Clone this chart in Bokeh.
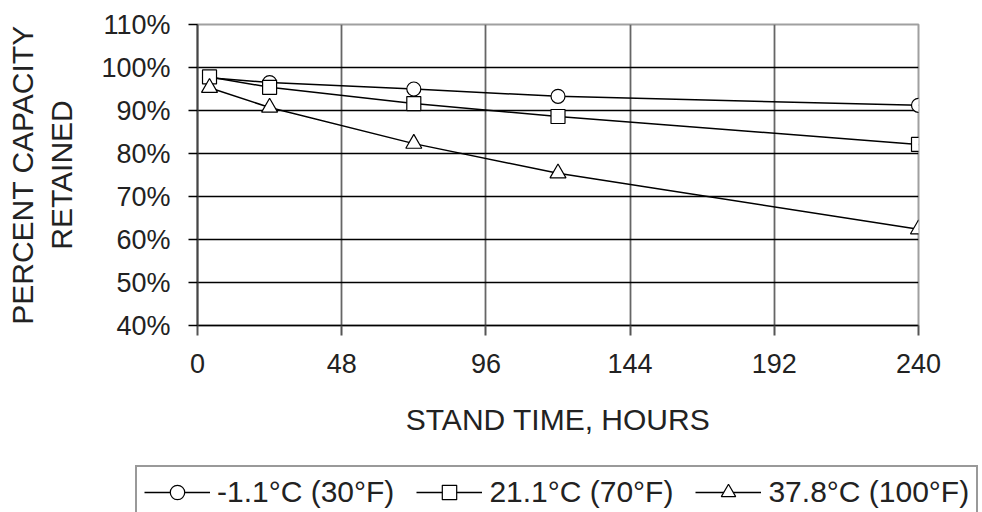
from bokeh.plotting import figure
from bokeh.layouts import column
from bokeh.models import (FixedTicker, PrintfTickFormatter, Legend, LegendItem,
                          Range1d)
from bokeh.embed import file_html
from bokeh.resources import INLINE

# ---- data ----
hours = [4, 24, 72, 120, 240]
cold = [97.6, 96.5, 95.0, 93.3, 91.2]      # -1.1°C (30°F)
room = [97.8, 95.4, 91.6, 88.6, 82.1]      # 21.1°C (70°F)
hot = [95.3, 90.7, 82.3, 75.4, 62.4]       # 37.8°C (100°F)
series_labels = ["-1.1°C (30°F)", "21.1°C (70°F)", "37.8°C (100°F)"]
x_ticks = [0, 48, 96, 144, 192, 240]
y_ticks = [40, 50, 60, 70, 80, 90, 100, 110]
x_title = "STAND TIME, HOURS"
y_title = "PERCENT CAPACITY\nRETAINED"

FONT = "Liberation Sans"
TXT = "#222222"
markers = ["circle", "square", "triangle"]
sizes = [14, 14, 16]

p = figure(width=982, height=460, output_backend="svg", toolbar_location=None,
           x_range=Range1d(0, 240), y_range=Range1d(40, 110),
           min_border_left=197, min_border_right=64,
           min_border_top=24, min_border_bottom=135)
p.frame_align = False
p.background_fill_color = "white"
p.border_fill_color = "white"
p.outline_line_color = "#a0a0a0"
p.outline_line_width = 2

# axes
p.xaxis.ticker = FixedTicker(ticks=x_ticks)
p.yaxis.ticker = FixedTicker(ticks=y_ticks)
p.yaxis.formatter = PrintfTickFormatter(format="%d%%")
for ax in (p.xaxis, p.yaxis):
    ax.minor_tick_line_color = None
    ax.major_tick_in = 0
    ax.major_label_text_font = FONT
    ax.major_label_text_font_size = "27px"
    ax.major_label_text_color = TXT
    ax.axis_label_text_font = FONT
    ax.axis_label_text_font_size = "30px"
    ax.axis_label_text_font_style = "normal"
    ax.axis_label_text_color = TXT
p.xaxis.major_tick_out = 10
p.yaxis.major_tick_out = 9
p.xaxis.axis_line_color = "black"
p.xaxis.axis_line_width = 1.5
p.xaxis.major_tick_line_color = "#555555"
p.xaxis.major_tick_line_width = 2
p.yaxis.axis_line_color = "#444444"
p.yaxis.axis_line_width = 2
p.yaxis.major_tick_line_color = "black"
p.yaxis.major_tick_line_width = 1.5
p.xaxis.major_label_standoff = 18
p.yaxis.major_label_standoff = 18
p.xaxis.axis_label = x_title
p.xaxis.axis_label_standoff = 27
p.yaxis.axis_label = y_title
p.yaxis.axis_label_standoff = 20

# grids
p.xgrid.ticker = FixedTicker(ticks=x_ticks[1:])
p.xgrid.grid_line_color = "#666666"
p.xgrid.grid_line_width = 1.8
p.ygrid.ticker = FixedTicker(ticks=y_ticks[1:-1])
p.ygrid.grid_line_color = "black"
p.ygrid.grid_line_width = 1.5

for ys, m, s in zip([cold, room, hot], markers, sizes):
    p.line(hours, ys, line_color="black", line_width=1.5)
    p.scatter(hours, ys, marker=m, size=s, fill_color="white",
              line_color="black", line_width=1.2)

# ---- legend strip: its own small figure so the legend is not clipped ----
q = figure(width=982, height=52, output_backend="svg", toolbar_location=None,
           x_axis_type=None, y_axis_type=None, min_border=0,
           x_range=Range1d(-20, -19), y_range=Range1d(0, 1))
q.frame_align = False
q.outline_line_color = None
q.background_fill_color = "white"
q.border_fill_color = "white"
items = []
for ys, m, s, lab in zip([cold, room, hot], markers, sizes, series_labels):
    ln = q.line(hours, ys, line_color="black", line_width=1.5)
    sc = q.scatter(hours, ys, marker=m, size=s, fill_color="white",
                   line_color="black", line_width=1.2)
    items.append(LegendItem(label=lab, renderers=[ln, sc]))

legend = Legend(items=items, orientation="horizontal", location=(135, -7),
                margin=0, padding=7, spacing=22, glyph_width=66, glyph_height=36,
                label_standoff=7, label_text_font=FONT, label_text_font_size="30px",
                label_text_color=TXT, border_line_color="#333333",
                border_line_width=2, background_fill_color="white",
                background_fill_alpha=1.0)
q.add_layout(legend, "center")

layout = column(p, q, spacing=0)
open("out.html", "w").write(file_html(layout, INLINE))
